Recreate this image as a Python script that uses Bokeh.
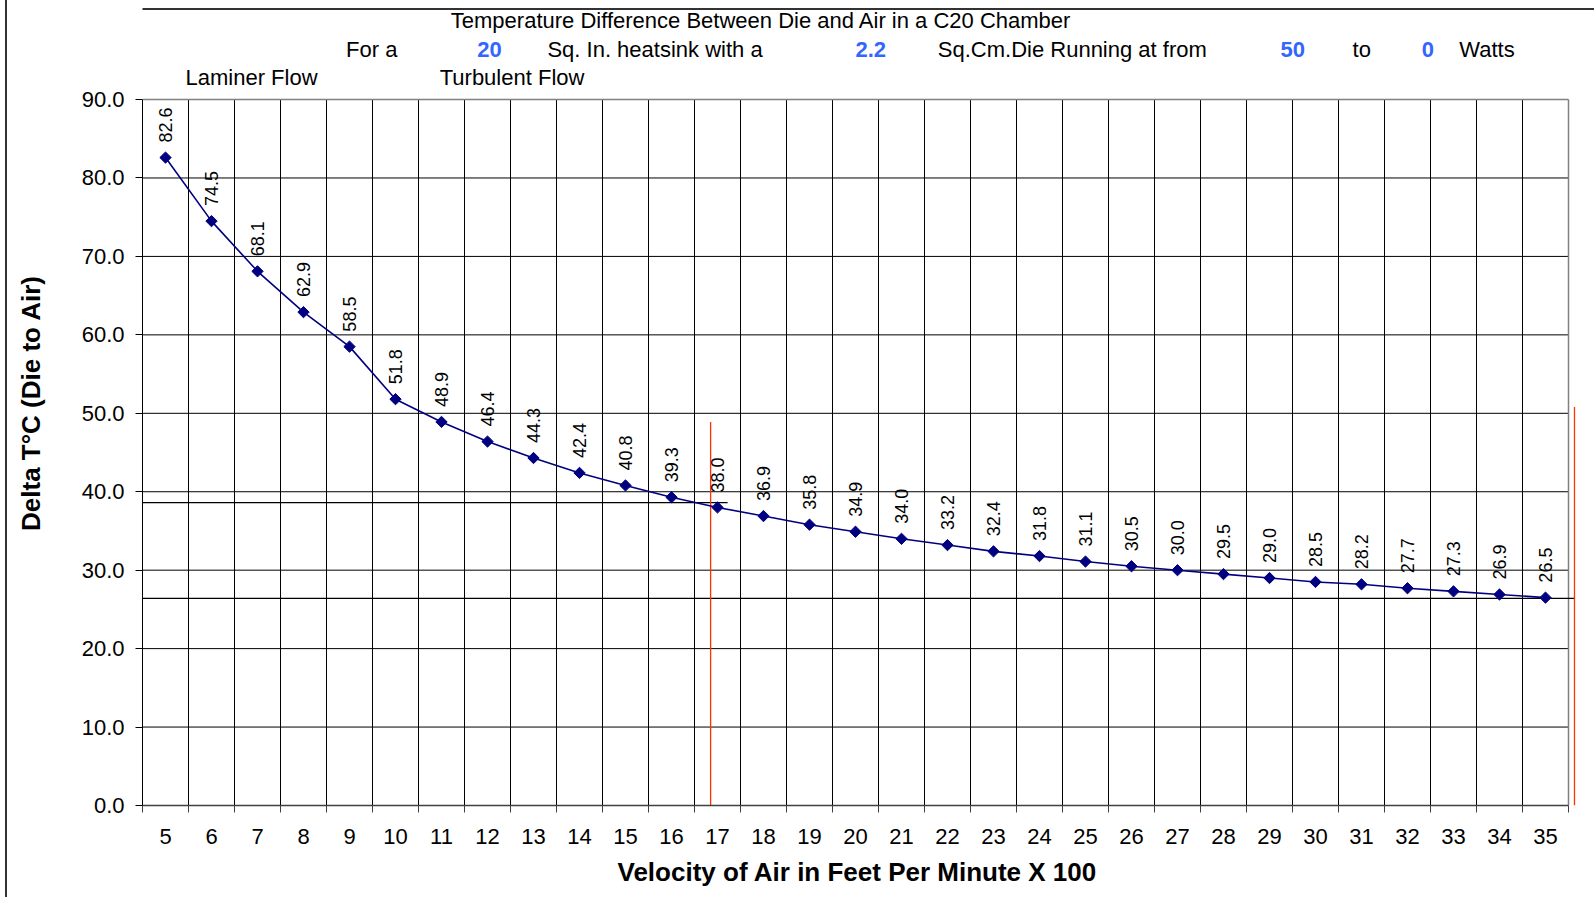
import numpy as np
from bokeh.plotting import figure
from bokeh.models import FixedTicker, PrintfTickFormatter, Range1d, Title
from bokeh.core.properties import value
from bokeh.embed import file_html
from bokeh.resources import INLINE

# ---------------- data ----------------
velocity = list(range(5, 36))  # feet per minute x 100
delta_t = [82.6, 74.5, 68.1, 62.9, 58.5, 51.8, 48.9, 46.4, 44.3, 42.4, 40.8,
           39.3, 38.0, 36.9, 35.8, 34.9, 34.0, 33.2, 32.4, 31.8, 31.1, 30.5,
           30.0, 29.5, 29.0, 28.5, 28.2, 27.7, 27.3, 26.9, 26.5]
y_ticks = [0, 10, 20, 30, 40, 50, 60, 70, 80, 90]

title_text = "Temperature Difference Between Die and Air in a C20 Chamber"
subtitle_parts = ["For a", "20", "Sq. In. heatsink with a", "2.2",
                  "Sq.Cm.Die Running at from", "50", "to", "0", "Watts"]
subtitle_is_value = [False, True, False, True, False, True, False, True, False]
flow_labels = ["Laminer Flow", "Turbulent Flow"]
x_title = "Velocity of Air in Feet Per Minute X 100"
y_title = "Delta T°C (Die to Air)"

# hand-drawn reference marks (in data units)
red_marker_x = [16.85, 35.63]
red_marker_top = [48.9, 50.8]
red_marker_bottom = [-2.3, 0.0]
ref_levels = [38.6, 26.4]
ref_x_start = [4.33, 3.98]
ref_x_end = [17.22, 35.63]

# ---------------- layout ----------------
W, H = 1594, 897
LEFT, BOTTOM = 142, 92          # px reserved for axes
PX_X, PX_Y = 46.0, 7.844        # px per data unit
x0 = velocity[0] - 0.5
x_last = velocity[-1] + 0.5
x_end = x0 + (W - LEFT) / PX_X
y_end = (H - BOTTOM) / PX_Y
y_top = y_ticks[-1]
X_TITLE_WIDTH = 476             # approx rendered width of the x-axis title, px

def X(page_px):
    return x0 + (page_px - LEFT) / PX_X

def Y(page_py):
    return (H - BOTTOM - page_py) / PX_Y

FONT = "Liberation Sans"

p = figure(width=W, height=H, x_range=Range1d(x0, x_end), y_range=Range1d(0, y_end),
           min_border_left=LEFT, min_border_right=0, min_border_top=0,
           min_border_bottom=BOTTOM, output_backend="svg", toolbar_location=None,
           outline_line_color=None, border_fill_color=None)
p.styles = {"background": "linear-gradient(to right, #ffffff 5px, #333333 5px, #333333 7px, #ffffff 7px)"}
p.xgrid.visible = False
p.ygrid.visible = False

boundaries = [v - 0.5 for v in velocity] + [x_last]

# x axis
xa = p.xaxis[0]
xa.ticker = FixedTicker(ticks=velocity, minor_ticks=boundaries)
xa.bounds = (x0, x_last)
xa.major_tick_line_color = None
xa.major_tick_out = 7
xa.major_tick_in = 0
xa.minor_tick_out = 7
xa.minor_tick_in = 0
xa.minor_tick_line_color = "#404040"
xa.axis_line_color = "#404040"
xa.axis_line_width = 1.5
xa.major_label_text_font = FONT
xa.major_label_text_font_size = "22px"
xa.major_label_text_color = "#000000"
xa.major_label_standoff = 16

# x axis title, centred on the plot area (which ends before the frame's right edge)
plot_width_px = (x_last - x0) * PX_X
p.add_layout(Title(text=x_title, align="left", offset=(plot_width_px - X_TITLE_WIDTH) / 2,
                   text_font=FONT, text_font_size="26px", text_font_style="bold",
                   text_color="#000000", standoff=17), "below")

# y axis
ya = p.yaxis[0]
ya.ticker = FixedTicker(ticks=y_ticks, minor_ticks=[])
ya.formatter = PrintfTickFormatter(format="%.1f")
ya.bounds = (0, y_top)
ya.major_tick_out = 7
ya.major_tick_in = 0
ya.minor_tick_out = 0
ya.minor_tick_in = 0
ya.axis_line_color = "#000000"
ya.major_tick_line_color = "#000000"
ya.major_label_text_font = FONT
ya.major_label_text_font_size = "22px"
ya.major_label_text_color = "#000000"
ya.major_label_standoff = 11
ya.axis_label = y_title
ya.axis_label_text_font = FONT
ya.axis_label_text_font_size = "26px"
ya.axis_label_text_font_style = "bold"
ya.axis_label_text_color = "#000000"
ya.axis_label_standoff = 33

# grid lines (category boundaries + value levels)
inner_b = boundaries[1:-1]
p.segment(x0=inner_b, y0=[0] * len(inner_b), x1=inner_b, y1=[y_top] * len(inner_b),
          line_color="#000000", line_width=1)
inner_y = y_ticks[1:-1]
p.segment(x0=[x0] * len(inner_y), y0=inner_y, x1=[x_last] * len(inner_y), y1=inner_y,
          line_color="#000000", line_width=1)
# plot area border (top and right)
p.segment(x0=[x0, x_last], y0=[y_top, 0], x1=[x_last, x_last], y1=[y_top, y_top],
          line_color="#808080", line_width=1.5)
# chart area top border
p.segment(x0=[x0 - 5], y0=[Y(8.5)], x1=[x_end], y1=[Y(8.5)], line_color="#333333", line_width=1.8)

# reference marks
p.segment(x0=ref_x_start, y0=ref_levels, x1=ref_x_end, y1=ref_levels,
          line_color="#000000", line_width=1.2)
p.segment(x0=red_marker_x, y0=red_marker_bottom, x1=red_marker_x, y1=red_marker_top,
          line_color="#FF3300", line_width=1.3)

# series
p.line(velocity, delta_t, line_color="#000080", line_width=1.6)
p.scatter(velocity, delta_t, marker="square", size=8, angle=np.pi / 4,
          fill_color="#000080", line_color="#000080")
p.text(x=velocity, y=delta_t, text=[f"{v:.1f}" for v in delta_t], angle=np.pi / 2,
       text_align="left", text_baseline="middle", y_offset=-15,
       text_font=value(FONT), text_font_size="18px", text_color="#000000")

# header texts
p.text(x=[X(450.3)], y=[Y(20.3)], text=[title_text], text_align="left",
       text_baseline="middle", text_font=value(FONT), text_font_size="22px",
       text_color="#000000")
sub_px = [345.6, 476.8, 546.9, 854.9, 937.3, 1279.9, 1352.1, 1421.2, 1458.8]
for part, is_val, px in zip(subtitle_parts, subtitle_is_value, sub_px):
    p.text(x=[X(px)], y=[Y(48.8)], text=[part], text_align="left",
           text_baseline="middle", text_font=value(FONT), text_font_size="22px",
           text_font_style="bold" if is_val else "normal",
           text_color="#3366FF" if is_val else "#000000")
flow_px = [185.0, 439.2]
p.text(x=[X(px) for px in flow_px], y=[Y(77.3)] * 2, text=flow_labels,
       text_align="left", text_baseline="middle", text_font=value(FONT),
       text_font_size="22px", text_color="#000000")

open("out.html", "w").write(file_html(p, INLINE))
